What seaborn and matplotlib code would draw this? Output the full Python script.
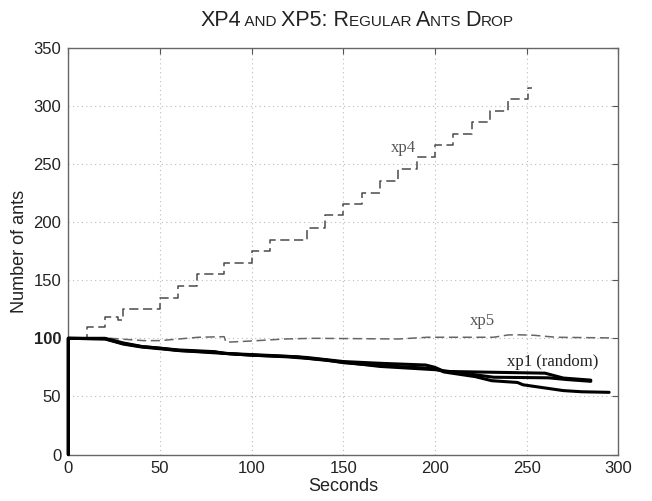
"""
XP4 and XP5: regular ants drop
"""
import matplotlib
matplotlib.use('Agg')
import matplotlib.pyplot as plt
from matplotlib.offsetbox import TextArea, HPacker, AnnotationBbox
import pandas as pd
import seaborn as sns
sns.set_style('white')
plt.rcParams['font.family'] = ['Liberation Sans', 'DejaVu Sans']

# xp4: regular drop, step curve
xp4_t = [0, 10, 20, 27, 30, 50, 60, 70, 85, 100, 110, 130, 140, 150, 160,
         170, 180, 190, 200, 210, 220, 230, 240, 251, 253]
xp4_n = [100, 110, 118, 116, 125, 135, 145, 155, 165, 175, 185, 195, 206, 216,
         225, 235, 246, 256, 266, 276, 286, 296, 306, 315, 315]

# xp5
xp5_t = [0, 23, 41, 50, 71, 85, 86, 100, 118, 134, 180, 196, 232, 240, 246,
         254, 266, 297]
xp5_n = [100, 100, 98, 98, 100.9, 101.4, 96.6, 97.7, 99.4, 100, 99.4, 100.9,
         100.9, 102.9, 103, 102.6, 100.9, 100.3]

# xp1 (random): three runs
xp1_a_t = [0, 0, 20, 30, 40, 50, 60, 80, 85, 100, 120, 130, 150, 170, 195,
           200, 205, 260, 270, 285]
xp1_a_n = [0, 100, 100, 96, 93, 91.5, 90, 88.5, 87, 86, 84.5, 83.5, 80, 78.5,
           77, 75, 71.5, 70, 65.8, 64]
xp1_b_t = [0, 0, 20, 30, 40, 50, 60, 80, 90, 100, 125, 135, 150, 170, 200,
           220, 232, 262, 272, 285]
xp1_b_n = [0, 100, 99.5, 95.5, 92.8, 91.5, 89.5, 88, 86.5, 85.5, 84, 82, 79.5,
           75.8, 73, 69, 66.5, 66, 64.5, 63]
xp1_c_t = [0, 0, 20, 30, 40, 50, 60, 80, 100, 120, 140, 150, 170, 200, 205,
           222, 231, 245, 248, 270, 280, 295]
xp1_c_n = [0, 100, 99.5, 95, 92.5, 91, 89.5, 87.5, 85.5, 84, 81.5, 79, 76.5,
           74, 71, 67, 63.5, 62, 60, 55, 54, 53.5]

xticks = [0, 50, 100, 150, 200, 250, 300]
yticks = [0, 50, 100, 150, 200, 250, 300, 350]


def xp1_frame():
    runs = [(xp1_a_t, xp1_a_n), (xp1_b_t, xp1_b_n), (xp1_c_t, xp1_c_n)]
    rows = []
    for i, (t, n) in enumerate(runs):
        rows += [{'run': i, 't': a, 'n': b} for a, b in zip(t, n)]
    return pd.DataFrame(rows)


def small_caps_title(fig, pieces, xy):
    boxes = [TextArea(s, textprops=dict(size=sz, color='#222222'))
             for s, sz in pieces]
    pack = HPacker(children=boxes, align='baseline', pad=0, sep=0)
    ab = AnnotationBbox(pack, xy, xycoords='figure fraction',
                        box_alignment=(0.5, 0.5), frameon=False)
    fig.add_artist(ab)


fig = plt.figure(figsize=(6.52, 5.01), dpi=100)
ax = fig.add_axes([0.1048, 0.0928, 0.8435, 0.8118])

sns.lineplot(x=xp4_t, y=xp4_n, ax=ax, drawstyle='steps-post', color='#4a4a4a',
             linewidth=1.1, linestyle=(0, (6, 3)), estimator=None, sort=False)
sns.lineplot(x=xp5_t, y=xp5_n, ax=ax, color='#666666', linewidth=1.1,
             linestyle=(0, (6, 3)), estimator=None, sort=False)
sns.lineplot(data=xp1_frame(), x='t', y='n', units='run', estimator=None,
             sort=False, ax=ax, color='black', linewidth=2.2, clip_on=False,
             zorder=3)

serif = dict(family='Liberation Serif', size=12, color='#555555',
             ha='center', va='center')
ax.text(183, 264, 'xp4', **serif)
ax.text(226, 115, 'xp5', **serif)
ax.text(264, 80, 'xp1 (random)', **dict(serif, color='#222222'))

ax.set_xlim(0, 300)
ax.set_ylim(0, 350)
ax.set_xticks(xticks)
ax.set_yticks(yticks)
ax.set_yticklabels([str(v) for v in yticks])
for lbl in ax.get_yticklabels():
    if lbl.get_text() == '100':
        lbl.set_fontweight('bold')
ax.tick_params(direction='in', top=True, right=True, length=4, width=0.8,
               labelsize=12, labelcolor='#222222', color='#555555', pad=5)
ax.grid(True, linestyle=(0, (1, 3)), color='#bbbbbb', linewidth=0.8)
for side in ['left', 'bottom', 'top', 'right']:
    ax.spines[side].set_color('#666666')
    ax.spines[side].set_linewidth(1.0)

ax.set_xlabel('Seconds', size=13, color='#222222', labelpad=1)
ax.set_ylabel('Number of ants', size=13, color='#222222', labelpad=4)

small_caps_title(fig, [('XP4', 15.5), (' AND ', 11), ('XP5: R', 15.5),
                       ('EGULAR ', 11), ('A', 15.5), ('NTS ', 11),
                       ('D', 15.5), ('ROP', 11)], (357 / 652, 1 - 20 / 501))

fig.savefig('out.png', dpi=100)
